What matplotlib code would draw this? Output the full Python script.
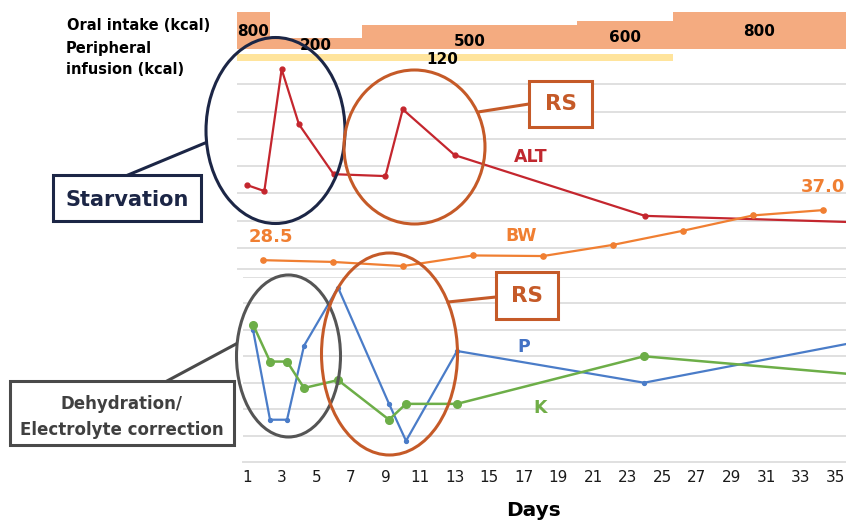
import matplotlib
matplotlib.use("Agg")
import matplotlib.pyplot as plt
from matplotlib.patches import Ellipse, Rectangle

# ---------------- data ----------------
# ALT (U/L)
days_alt = [1, 2, 3, 4, 6, 9, 10, 13, 24, 36]
alt = [330, 308, 755, 553, 370, 363, 608, 440, 217, 194]

# body weight (kg)
days_bw = [2, 6, 10, 14, 18, 22, 26, 30, 34]
bw = [28.5, 28.2, 27.5, 29.3, 29.2, 31.1, 33.5, 36.1, 37.0]

# serum phosphate (mg/dL) and potassium (mEq/L)
days_lab = [1, 2, 3, 4, 6, 9, 10, 13, 24, 37]
phos = [3.5, 1.8, 1.8, 3.2, 4.3, 2.1, 1.4, 3.1, 2.5, 3.3]
potassium = [4.6, 3.9, 3.9, 3.4, 3.55, 2.8, 3.1, 3.1, 4.0, 3.64]

# nutrition (kcal)
oral_kcal = [800, 200, 500, 600, 800]
oral_edges = [0.4, 2.3, 7.65, 20.1, 25.6, 36.0]
infusion_kcal = 120
infusion_span = [0.4, 25.6]

day_ticks = list(range(1, 36, 2))

# ---------------- styling ----------------
W, H = 846, 522
C_ALT, C_BW, C_P, C_K = "#C4262E", "#F07F32", "#4A7CC8", "#6DAE48"
C_RS, C_NAVY, C_GRAY = "#C55A28", "#1C2646", "#4A4A4A"
GRID = "#E0E0E0"
FONT = "DejaVu Sans"
plt.rcParams["font.family"] = FONT


def box(x0, y0, x1, y1):
    """Figure-fraction rectangle from pixel edges (origin top-left)."""
    return [x0 / W, 1 - y1 / H, (x1 - x0) / W, (y1 - y0) / H]


def bare(ax):
    ax.set_facecolor("none")
    for s in ax.spines.values():
        s.set_visible(False)
    ax.tick_params(left=False, bottom=False, labelleft=False, labelbottom=False)


fig = plt.figure(figsize=(W / 100, H / 100), dpi=100)
fig.patch.set_facecolor("white")

# ---- oral intake step bars ----
ax_kcal = fig.add_axes(box(237, 12, 846, 49))
bare(ax_kcal)
ax_kcal.set_xlim(0.42, 35.62)
ax_kcal.set_ylim(-50, 800)
ax_kcal.stairs(oral_kcal, oral_edges, baseline=-50, fill=True,
               color="#F4AB80", clip_on=True)
label_px = [31, 45, 41, 38, 32]
for i, v in enumerate(oral_kcal):
    xc = (oral_edges[i] + min(oral_edges[i + 1], 35.62)) / 2
    yd = -50 + (49 - label_px[i]) / 37 * 850
    ax_kcal.text(xc, yd, f"{v}", ha="center", va="center", fontsize=11,
                 fontweight="bold", color="black", clip_on=False)

# ---- peripheral infusion bar ----
ax_inf = fig.add_axes(box(237, 54, 846, 61))
bare(ax_inf)
ax_inf.set_xlim(0.42, 35.62)
ax_inf.set_ylim(0, 1)
ax_inf.barh(0.5, infusion_span[1] - infusion_span[0], left=infusion_span[0],
            height=1, color="#FFE291", alpha=0.9)
ax_inf.annotate(f"{infusion_kcal}", xy=(sum(infusion_span) / 2, 0.15),
                xytext=(-9, 0), textcoords="offset points",
                ha="center", va="center", fontsize=11, fontweight="bold",
                annotation_clip=False)

# ---- ALT panel (gridlines) ----
ax_alt = fig.add_axes(box(237, 57, 846, 275))
bare(ax_alt)
ax_alt.set_xlim(0.42, 35.62)
ax_alt.set_ylim(0, 800)
ax_alt.set_yticks(range(100, 800, 100))
ax_alt.yaxis.grid(True, color=GRID, lw=1.4)
ax_alt.set_axisbelow(True)
ax_alt.plot(days_alt, alt, color=C_ALT, lw=1.6, marker="o", ms=3.5, zorder=3)

# ---- body weight panel ----
ax_bw = fig.add_axes(box(238, 57, 846, 269))
bare(ax_bw)
ax_bw.spines["bottom"].set_visible(True)
ax_bw.spines["bottom"].set_color(GRID)
ax_bw.spines["bottom"].set_linewidth(1.4)
ax_bw.set_xlim(0.57, 35.31)
ax_bw.set_ylim(27, 63)
ax_bw.plot(days_bw, bw, color=C_BW, lw=1.6, marker="o", ms=3.8, zorder=3)
ax_bw.annotate(f"{bw[0]:.1f}", xy=(days_bw[0], bw[0]), xytext=(6, 17),
               textcoords="offset points", ha="center", va="center",
               fontsize=13, fontweight="bold", color=C_BW, annotation_clip=False)
ax_bw.annotate(f"{bw[-1]:.1f}", xy=(days_bw[-1], bw[-1]), xytext=(0, 17),
               textcoords="offset points", ha="center", va="center",
               fontsize=13, fontweight="bold", color=C_BW, annotation_clip=False)

# ---- phosphate / potassium panel ----
ax_p = fig.add_axes(box(243, 277, 846, 462))
bare(ax_p)
ax_p.spines["bottom"].set_visible(True)
ax_p.spines["bottom"].set_color(GRID)
ax_p.spines["bottom"].set_linewidth(1.4)
ax_p.set_xlim(0.41, 35.88)
ax_p.set_ylim(1.0, 4.5)
ax_p.set_yticks([1.5, 2.0, 2.5, 3.0, 3.5, 4.0, 4.5])
ax_p.yaxis.grid(True, color=GRID, lw=1.4)
ax_p.set_axisbelow(True)
ax_p.plot(days_lab, phos, color=C_P, lw=1.6, marker="o", ms=2.8, zorder=3)

ax_k = fig.add_axes(box(243, 277, 846, 462))
bare(ax_k)
ax_k.set_xlim(0.41, 35.88)
ax_k.set_ylim(2.0, 5.5)
ax_k.plot(days_lab, potassium, color=C_K, lw=1.8, marker="o", ms=5.5, zorder=3)

# ---- day axis ----
ax_t = fig.add_axes(box(237, 57, 846, 462))
bare(ax_t)
ax_t.set_xlim(0.42, 35.62)
ax_t.set_xticks(day_ticks)
ax_t.set_xticklabels([str(d) for d in day_ticks])
ax_t.tick_params(labelbottom=True, bottom=False, pad=2, labelsize=11,
                 labelcolor="#1A1A1A")
ax_t.set_yticks([])
fig.text(533 / W, 1 - 510 / H, "Days", ha="center", va="center",
         fontsize=14.5, fontweight="bold")

# ---- annotation overlay in pixel coordinates ----
ov = fig.add_axes([0, 0, 1, 1], zorder=10)
ov.set_xlim(0, W)
ov.set_ylim(H, 0)
ov.axis("off")
ov.set_facecolor("none")

ov.text(67, 26, "Oral intake (kcal)", ha="left", va="center",
        fontsize=10.5, fontweight="bold")
ov.text(66, 49, "Peripheral", ha="left", va="center",
        fontsize=10.5, fontweight="bold")
ov.text(66, 69, "infusion (kcal)", ha="left", va="center",
        fontsize=10.5, fontweight="bold")

LW = 2.2
ov.add_patch(Ellipse((275.5, 130.5), 139, 186, fill=False, ec=C_NAVY, lw=LW))
ov.add_patch(Ellipse((414.5, 147), 141, 154, fill=False, ec=C_RS, lw=LW))
ov.add_patch(Ellipse((288.5, 356), 104, 162, fill=False, ec="#555555", lw=LW))
ov.add_patch(Ellipse((389.5, 354), 136, 202, fill=False, ec=C_RS, lw=LW))

# Starvation callout
ov.plot([128, 205], [175, 143], color=C_NAVY, lw=LW)
ov.add_patch(Rectangle((53, 175), 148, 46, fc="white", ec=C_NAVY, lw=LW))
ov.text(127, 200, "Starvation", ha="center", va="center", fontsize=15,
        fontweight="bold", color=C_NAVY)

# refeeding syndrome callouts
ov.plot([478, 529], [112, 104], color=C_RS, lw=LW)
ov.add_patch(Rectangle((529, 81), 63, 46, fc="white", ec=C_RS, lw=LW))
ov.text(561, 104, "RS", ha="center", va="center", fontsize=15.5,
        fontweight="bold", color=C_RS)

ov.plot([448, 496], [302, 297], color=C_RS, lw=LW)
ov.add_patch(Rectangle((496, 272), 62, 47, fc="white", ec=C_RS, lw=LW))
ov.text(527, 296, "RS", ha="center", va="center", fontsize=15.5,
        fontweight="bold", color=C_RS)

# dehydration callout
ov.plot([167, 236], [381, 344], color=C_GRAY, lw=LW)
ov.add_patch(Rectangle((10, 381), 224, 64, fc="white", ec=C_GRAY, lw=LW))
ov.text(122, 404, "Dehydration/", ha="center", va="center", fontsize=12,
        fontweight="bold", color="#404040")
ov.text(122, 430, "Electrolyte correction", ha="center", va="center",
        fontsize=12, fontweight="bold", color="#404040")

# series names
ov.text(531, 157, "ALT", ha="center", va="center", fontsize=12.5,
        fontweight="bold", color="#C0282F")
ov.text(521, 236, "BW", ha="center", va="center", fontsize=12.5,
        fontweight="bold", color=C_BW)
ov.text(524, 347, "P", ha="center", va="center", fontsize=12.5,
        fontweight="bold", color="#4472C4")
ov.text(540, 408, "K", ha="center", va="center", fontsize=12.5,
        fontweight="bold", color="#70AD47")

fig.savefig("out.png", dpi=100)
